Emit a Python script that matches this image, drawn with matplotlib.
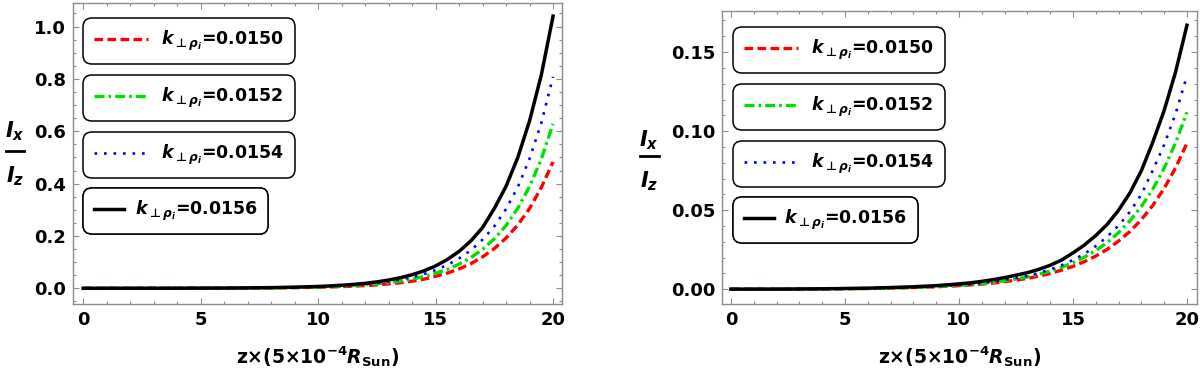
import matplotlib
matplotlib.use("Agg")
import matplotlib.pyplot as plt
from matplotlib.ticker import MultipleLocator
from matplotlib.lines import Line2D

plt.rcParams['font.family'] = ['DejaVu Sans']
plt.rcParams['font.weight'] = 'bold'
plt.rcParams['mathtext.fontset'] = 'custom'
plt.rcParams['mathtext.it'] = 'DejaVu Sans:italic:bold'
plt.rcParams['mathtext.rm'] = 'DejaVu Sans:bold'
plt.rcParams['mathtext.bf'] = 'DejaVu Sans:bold'
plt.rcParams['mathtext.sf'] = 'DejaVu Sans:bold'
plt.rcParams['mathtext.fallback'] = 'stixsans'

# ---------------- data ----------------
z = [0, 1, 2, 3, 4, 5, 6, 7, 8, 9, 10, 10.5, 11, 11.5, 12, 12.5, 13, 13.5, 14, 14.5,
     15, 15.5, 16, 16.5, 17, 17.5, 18, 18.5, 19, 19.5, 20]

labels = [r'$k_{\bot\rho_i}$=0.0150', r'$k_{\bot\rho_i}$=0.0152',
          r'$k_{\bot\rho_i}$=0.0154', r'$k_{\bot\rho_i}$=0.0156']

left_0150 = [0.0, 0.0, 0.0001, 0.0001, 0.0002, 0.0004, 0.0006, 0.0009, 0.0015, 0.0025,
             0.0040, 0.0051, 0.0065, 0.0082, 0.0104, 0.0132, 0.0168, 0.0213, 0.0271, 0.0345,
             0.046, 0.058, 0.074, 0.094, 0.120, 0.152, 0.192, 0.242, 0.305, 0.385, 0.483]
left_0152 = [0.0, 0.0001, 0.0001, 0.0002, 0.0003, 0.0005, 0.0007, 0.0012, 0.0020, 0.0032,
             0.0052, 0.0066, 0.0084, 0.0106, 0.0135, 0.0172, 0.0218, 0.0277, 0.0353, 0.0448,
             0.0570, 0.0724, 0.0921, 0.117, 0.149, 0.189, 0.240, 0.306, 0.389, 0.494, 0.628]
left_0154 = [0.0, 0.0001, 0.0001, 0.0002, 0.0003, 0.0005, 0.0008, 0.0013, 0.0022, 0.0036,
             0.0060, 0.0077, 0.0098, 0.0125, 0.0160, 0.0205, 0.0262, 0.0334, 0.0427, 0.0546,
             0.0697, 0.0891, 0.114, 0.145, 0.186, 0.237, 0.303, 0.387, 0.495, 0.632, 0.808]
left_0156 = [0.0, 0.0001, 0.0001, 0.0002, 0.0003, 0.0006, 0.0009, 0.0016, 0.0026, 0.0043,
             0.0070, 0.0090, 0.0116, 0.0148, 0.0190, 0.0245, 0.0314, 0.0403, 0.0518, 0.0665,
             0.0854, 0.110, 0.141, 0.181, 0.232, 0.305, 0.390, 0.500, 0.640, 0.815, 1.040]

right_0150 = [0.0001, 0.0001, 0.0001, 0.0002, 0.0002, 0.0004, 0.0005, 0.0008, 0.0011, 0.0016,
              0.0023, 0.0028, 0.0033, 0.0040, 0.0048, 0.0058, 0.0069, 0.0083, 0.0100, 0.0121,
              0.0145, 0.0175, 0.0210, 0.0253, 0.0305, 0.0366, 0.0441, 0.0530, 0.0638, 0.0768, 0.0924]
right_0152 = [0.0001, 0.0001, 0.0001, 0.0002, 0.0003, 0.0004, 0.0005, 0.0008, 0.0012, 0.0017,
              0.0025, 0.0030, 0.0037, 0.0044, 0.0054, 0.0065, 0.0078, 0.0095, 0.0115, 0.0139,
              0.0168, 0.0203, 0.0245, 0.0296, 0.0358, 0.0433, 0.0524, 0.0633, 0.0766, 0.0926, 0.112]
right_0154 = [0.0, 0.0001, 0.0001, 0.0002, 0.0003, 0.0004, 0.0006, 0.0009, 0.0013, 0.0018,
              0.0027, 0.0033, 0.0040, 0.0049, 0.0060, 0.0072, 0.0085, 0.0103, 0.0125, 0.0152,
              0.0185, 0.0224, 0.0273, 0.0332, 0.0403, 0.0490, 0.0600, 0.0752, 0.0914, 0.111, 0.135]
right_0156 = [0.0001, 0.0001, 0.0001, 0.0002, 0.0003, 0.0005, 0.0007, 0.0011, 0.0016, 0.0023,
              0.0034, 0.0041, 0.0050, 0.0061, 0.0074, 0.0089, 0.0105, 0.0126, 0.0152, 0.0185,
              0.0230, 0.028, 0.034, 0.041, 0.050, 0.061, 0.075, 0.093, 0.1131, 0.1374, 0.167]

left_series = [left_0150, left_0152, left_0154, left_0156]
right_series = [right_0150, right_0152, right_0154, right_0156]

# ---------------- styles ----------------
styles = [
    dict(color='#ff0000', lw=2.4, dashes=(2.6, 1.3)),
    dict(color='#00e000', lw=2.4, dashes=(3.0, 1.2, 0.8, 1.2)),
    dict(color='#0000ff', lw=1.9, dashes=(1.0, 2.6)),
    dict(color='black', lw=2.5),
]

fig = plt.figure(figsize=(12, 3.73), dpi=100)
W, H = 1200, 373


def axes_px(l, t, r, b):
    return fig.add_axes([l / W, 1 - b / H, (r - l) / W, (b - t) / H])


ax1 = axes_px(73, 3, 562, 304)
ax2 = axes_px(722, 11, 1197, 304)

gray = '#8c8c8c'
fs = 13


def style_axes(ax, xlim, ylim, ymaj, ymin, yfmt):
    ax.set_xlim(*xlim)
    ax.set_ylim(*ylim)
    ax.xaxis.set_major_locator(MultipleLocator(5))
    ax.xaxis.set_minor_locator(MultipleLocator(1))
    ax.yaxis.set_major_locator(MultipleLocator(ymaj))
    ax.yaxis.set_minor_locator(MultipleLocator(ymin))
    ax.yaxis.set_major_formatter(plt.FormatStrFormatter(yfmt))
    for s in ax.spines.values():
        s.set_color(gray)
        s.set_linewidth(1.0)
    ax.tick_params(which='both', direction='in', top=True, right=True, color=gray,
                   width=0.8, labelsize=fs, pad=5)
    ax.tick_params(which='major', length=4)
    ax.tick_params(which='minor', length=2.2)
    for lab in ax.get_xticklabels() + ax.get_yticklabels():
        lab.set_fontweight('bold')
    ax.set_xlabel(r'z×(5×10$^{-4}$$\mathit{R}_{\mathrm{Sun}}$)', fontsize=fs + 0.5,
                  fontweight='bold', labelpad=11)


style_axes(ax1, (-0.43, 20.38), (-0.06, 1.09), 0.2, 0.05, '%.1f')
style_axes(ax2, (-0.39, 20.44), (-0.0093, 0.176), 0.05, 0.01, '%.2f')

for ax, series in ((ax1, left_series), (ax2, right_series)):
    for vals, st in zip(series, styles):
        ax.plot(z, vals, **st)


# y labels as stacked fraction I_x / I_z
def frac_label(xc, y_num, y_bar, y_den, half):
    fig.text(xc / W, 1 - y_num / H, r'$I_x$', fontsize=fs + 2, ha='center', va='center')
    fig.text(xc / W, 1 - y_den / H, r'$I_z$', fontsize=fs + 2, ha='center', va='center')
    fig.add_artist(Line2D([(xc - half) / W, (xc + half) / W], [1 - y_bar / H, 1 - y_bar / H],
                          transform=fig.transFigure, color='black', lw=2.0))


frac_label(15, 131, 151, 176, 9)
frac_label(649, 140, 156, 181, 9.5)

# legends (four separate rounded boxes)
leg_pos = {
    ax1: [(0.0204, 0.950), (0.0204, 0.761), (0.0204, 0.571), (0.0204, 0.385)],
    ax2: [(0.023, 0.945), (0.023, 0.751), (0.023, 0.556), (0.023, 0.365)],
}
for ax in (ax1, ax2):
    lns = ax.get_lines()
    for i in range(4):
        hl = 3.1 if i < 3 else 1.75
        tp = 0.8 if i < 3 else 0.6
        leg = ax.legend([lns[i]], [labels[i]], loc='upper left',
                        bbox_to_anchor=leg_pos[ax][i], borderaxespad=0,
                        handlelength=hl, handletextpad=tp,
                        borderpad=0.62, fancybox=True, framealpha=1,
                        edgecolor='black', prop={'weight': 'bold', 'size': 12.5})
        fr = leg.get_frame()
        fr.set_boxstyle('round', pad=0, rounding_size=0.5)
        fr.set_linewidth(1.1)
        ax.add_artist(leg)

fig.savefig('out.png', dpi=100)
